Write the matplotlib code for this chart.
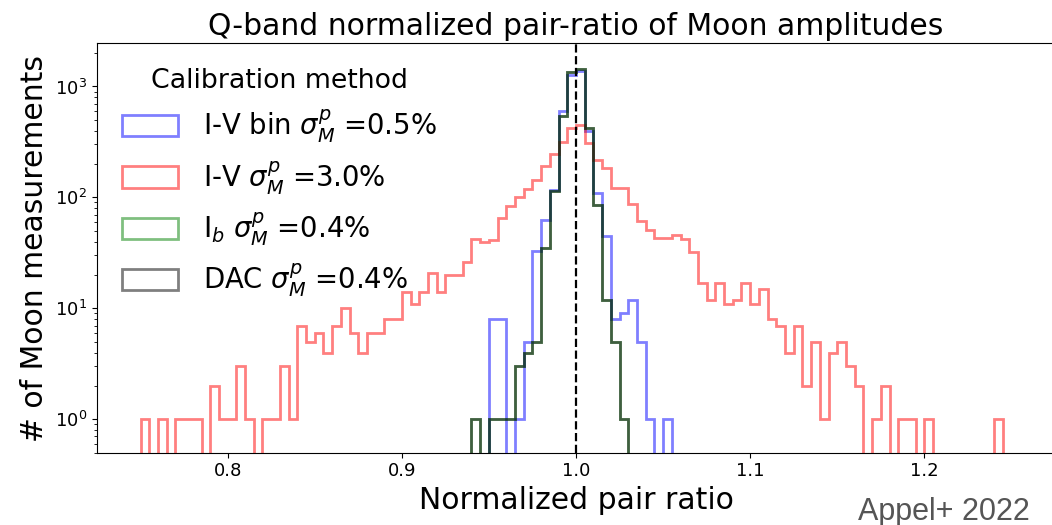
import numpy as np
import matplotlib
matplotlib.use("Agg")
import matplotlib.pyplot as plt

# Common binning of the normalized pair ratio
bin_start = 0.75
bin_width = 0.005
n_bins = 100

# Counts per bin; each short list starts at the given first bin index
red_iv_first = 0
red_iv_counts = [1, 0, 1, 0, 1, 1, 1, 0, 2, 1,
                 1, 3, 1, 0, 1, 1, 3, 1, 7, 5,
                 6, 4, 7, 10, 6, 4, 6, 6, 8, 8,
                 14, 11, 14, 21, 14, 20, 20, 26, 42, 40,
                 41, 65, 83, 100, 120, 145, 190, 245, 315, 420,
                 445, 310, 218, 185, 121, 121, 88, 61, 51, 43,
                 43, 46, 42, 32, 17, 12, 17, 11, 12, 17,
                 11, 15, 8, 7, 4, 7, 2, 5, 1, 4,
                 5, 3, 2, 0, 1, 2, 0, 1, 1, 0,
                 1, 0, 0, 0, 0, 0, 0, 0, 1, 0]

iv_bin_first = 40
iv_bin_counts = [8, 8, 0, 1, 5, 33, 63, 117, 595, 1280,
                 1380, 400, 110, 45, 8, 9, 12, 5, 1, 0, 1]

ib_first = 38
ib_counts = [1, 0, 1, 1, 1, 3, 4, 5, 35, 115,
             537, 1350, 1450, 421, 85, 12, 5, 1]

dac_first = 38
dac_counts = [1, 0, 1, 1, 1, 3, 4, 5, 35, 115,
              537, 1350, 1450, 421, 85, 12, 5, 1]

labels = [r'I-V bin $\sigma_M^p$ =0.5%',
          r'I-V $\sigma_M^p$ =3.0%',
          r'I$_b$ $\sigma_M^p$ =0.4%',
          r'DAC $\sigma_M^p$ =0.4%']
colors = ['b', 'r', 'g', 'k']

edges = bin_start + bin_width * np.arange(n_bins + 1)
centers = 0.5 * (edges[:-1] + edges[1:])


def full(first, counts):
    arr = np.zeros(n_bins)
    arr[first:first + len(counts)] = counts
    return arr


series = [full(iv_bin_first, iv_bin_counts),
          full(red_iv_first, red_iv_counts),
          full(ib_first, ib_counts),
          full(dac_first, dac_counts)]

W, H = 1052, 525
fig = plt.figure(figsize=(W / 100, H / 100), dpi=100)
ax = fig.add_axes([97 / W, 1 - 452.7 / H, (1055 - 97) / W, (452.7 - 43.3) / H])

for w, c, lab in zip(series, colors, labels):
    ax.hist(centers, bins=edges, weights=w, histtype='step', color=c,
            alpha=0.5, lw=2.0, label=lab)

ax.set_yscale('log', nonpositive='clip')
ax.axvline(1.0, color='k', ls='--', lw=1.6)

ax.set_xlim(0.725, 1.275)
ax.set_ylim(0.5, 2450)
ax.set_xticks([0.8, 0.9, 1.0, 1.1, 1.2])
ax.tick_params(axis='both', which='major', labelsize=13)

ax.set_title('Q-band normalized pair-ratio of Moon amplitudes', fontsize=21.5)
ax.set_xlabel('Normalized pair ratio', fontsize=21.5)
ax.set_ylabel('# of Moon measurements', fontsize=21.5)

ax.legend(title='Calibration method', loc='upper left', frameon=False,
          fontsize=19.8, title_fontsize=19.3, handlelength=2.05,
          handleheight=0.82, labelspacing=0.5, handletextpad=0.9)

fig.text(1030 / W, 5 / H, 'Appel+ 2022', ha='right', va='baseline',
         fontsize=22, family='Liberation Sans', color='#555555')

fig.savefig('out.png', dpi=100)
